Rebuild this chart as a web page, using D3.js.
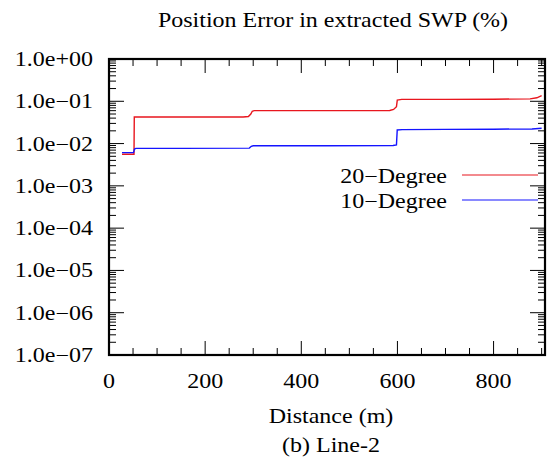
<!DOCTYPE html>
<html>
<head>
<meta charset="UTF-8">
<script src="https://d3js.org/d3.v7.min.js"></script>
<style>
  body { margin: 0; background: #fff; }
</style>
</head>
<body>
<div id="chart"></div>
<script>
// distance (m) and position error values for each series
const red20X = [27, 52, 52.6, 150, 279, 290, 295, 298, 302, 450, 584, 592, 598, 599.7, 609, 700, 800, 876, 890, 900];
const red20Y = [0.00557, 0.00557, 0.0425, 0.0425, 0.0425, 0.0437, 0.050, 0.058, 0.060, 0.060, 0.0605, 0.064, 0.0746, 0.107, 0.111, 0.111, 0.112, 0.114, 0.121, 0.136];
const blue10X = [27, 51, 53, 56, 150, 292, 296, 300, 450, 591, 598, 599.6, 610, 700, 800, 880, 900];
const blue10Y = [0.0061, 0.0061, 0.0074, 0.0077, 0.0077, 0.0078, 0.0086, 0.0089, 0.0089, 0.0090, 0.0093, 0.0210, 0.0214, 0.0217, 0.0219, 0.0222, 0.0230];
const xTicks = [0, 200, 400, 600, 800];
const yTicks = [1, 1e-1, 1e-2, 1e-3, 1e-4, 1e-5, 1e-6, 1e-7];
const yTickLabels = ["1.0e+00", "1.0e\u221201", "1.0e\u221202", "1.0e\u221203", "1.0e\u221204", "1.0e\u221205", "1.0e\u221206", "1.0e\u221207"];
const seriesNames = ["20\u2212Degree", "10\u2212Degree"];

const W = 556, H = 461;
const L = 109, R = 545, T = 59, B = 355;
const sx = 1.2; // text in the picture is stretched sideways
const FONT = "'Liberation Serif', 'Times New Roman', Times, 'DejaVu Serif', serif";

const svg = d3.select("#chart").append("svg")
  .attr("width", W).attr("height", H)
  .style("font-family", FONT)
  .style("font-size", "20px");

const x = d3.scaleLinear().domain([0, 907]).range([L, R]);
const y = d3.scaleLog().domain([1e-7, 1]).range([B, T]);

function label(tx, ty, str, anchor) {
  svg.append("text")
    .attr("transform", `translate(${tx},${ty}) scale(${sx},1)`)
    .attr("text-anchor", anchor)
    .style("font-family", FONT)
    .attr("fill", "#000")
    .text(str);
}

// minor ticks
const xMinor = d3.range(0, 901, 50);
const yMinor = [];
for (let e = -7; e < 0; e++) for (let m = 1; m < 10; m++) yMinor.push(m * Math.pow(10, e));

const tickG = svg.append("g").attr("stroke", "#000").attr("stroke-width", 1);
xMinor.forEach(v => {
  const big = v % 200 === 0;
  const len = big ? 14 : 7;
  tickG.append("line").attr("x1", x(v)).attr("x2", x(v)).attr("y1", B).attr("y2", B - len);
  tickG.append("line").attr("x1", x(v)).attr("x2", x(v)).attr("y1", T).attr("y2", T + len);
});
yMinor.forEach(v => {
  const big = Math.abs(Math.log10(v) - Math.round(Math.log10(v))) < 1e-9;
  const len = big ? 15 : 7;
  tickG.append("line").attr("x1", L).attr("x2", L + len).attr("y1", y(v)).attr("y2", y(v));
  tickG.append("line").attr("x1", R).attr("x2", R - len).attr("y1", y(v)).attr("y2", y(v));
});

// frame
svg.append("rect").attr("x", L).attr("y", T).attr("width", R - L).attr("height", B - T)
  .attr("fill", "none").attr("stroke", "#000").attr("stroke-width", 2.2);

// tick labels
yTicks.forEach((v, i) => label(93, y(v) + 7, yTickLabels[i], "end"));
xTicks.forEach(v => label(x(v), 388, String(v), "middle"));

// series
const line = d3.line().x(d => x(d[0])).y(d => y(d[1]));
const redData = red20X.map((d, i) => [d, red20Y[i]]);
const blueData = blue10X.map((d, i) => [d, blue10Y[i]]);
svg.append("path").datum(redData).attr("d", line)
  .attr("fill", "none").attr("stroke", "#e8161e").attr("stroke-width", 1.4);
svg.append("path").datum(blueData).attr("d", line)
  .attr("fill", "none").attr("stroke", "#1414ff").attr("stroke-width", 1.4);

// legend
const legColors = ["#e8161e", "#1414ff"];
seriesNames.forEach((n, i) => {
  const ly = 175 + i * 25;
  label(447, ly + 8, n, "end");
  svg.append("line").attr("x1", 462).attr("x2", 538).attr("y1", ly).attr("y2", ly)
    .attr("stroke", legColors[i]).attr("stroke-width", 1.2);
});

// titles
label(333, 27, "Position Error in extracted SWP (%)", "middle");
label(331, 423, "Distance (m)", "middle");
label(331, 452, "(b) Line-2", "middle");
</script>
</body>
</html>
